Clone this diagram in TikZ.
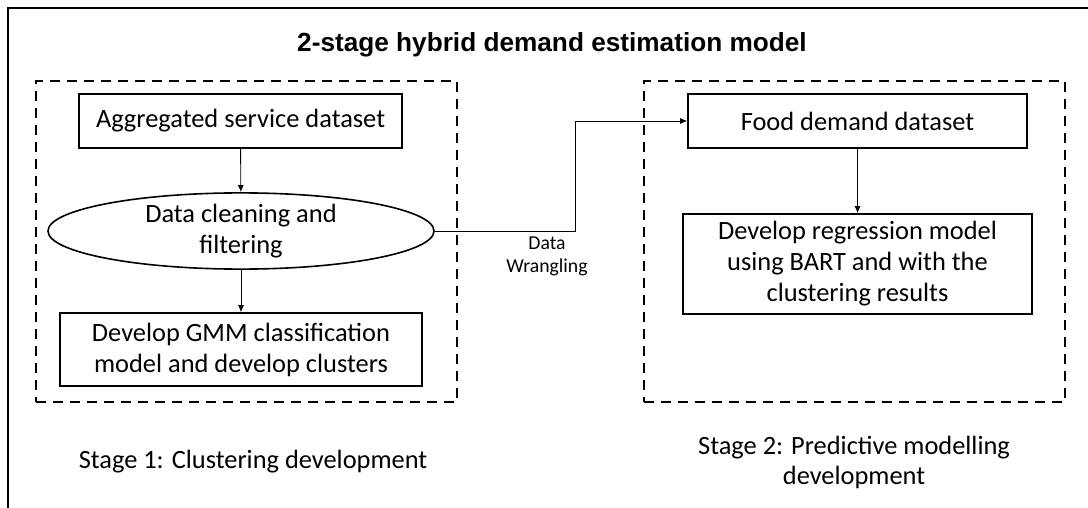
\documentclass[tikz,border=0pt]{standalone}
\usepackage{fontspec}
\setmainfont{Carlito}
\newfontfamily\headfont{Liberation Sans}
\usetikzlibrary{shapes.geometric,arrows.meta}

\begin{document}
\begin{tikzpicture}[x=1pt,y=-1pt,
    stepbox/.style={draw,line width=1.6pt,inner sep=0pt,align=center,
        font=\fontsize{26.4}{31}\selectfont},
    cleanbox/.style={stepbox,ellipse},
    stagebox/.style={draw,line width=2pt,dash pattern=on 10pt off 7pt,
        inner sep=0pt},
    flow/.style={line width=0.9pt,-{Latex[length=7pt,width=6pt]}},
    caption/.style={align=center,font=\fontsize{26.4}{30}\selectfont}]
    \useasboundingbox (0,0) rectangle (1088,508);
    \draw[line width=2.4pt] (8,508) -- (8,8) -- (1088,8);

    \node (title) at (552,45) {\headfont\bfseries\fontsize{26.2}{30}\selectfont 2-stage hybrid demand estimation model};

    % stage frames
    \node[stagebox,minimum width=421pt,minimum height=321pt] (stage1) at (246.5,241.5) {};
    \node[stagebox,minimum width=421pt,minimum height=321pt] (stage2) at (854,241.5) {};

    % stage 1
    \node[stepbox,minimum width=323pt,minimum height=54pt] (agg) at (240.5,121) {Aggregated service dataset};
    \node[cleanbox,minimum width=386pt,minimum height=71pt] (clean) at (241,231) {Data cleaning and\\filtering};
    \node[stepbox,minimum width=362pt,minimum height=73pt] (gmm) at (241,349.5) {Develop GMM classification\\model and develop clusters};

    % stage 2
    \node[stepbox,minimum width=339pt,minimum height=54pt] (food) at (857.5,121) {Food demand dataset};
    \node[stepbox,minimum width=349pt,minimum height=100pt] (regr) at (857.5,264) {Develop regression model\\using BART and with the\\clustering results};

    \draw[flow] (agg) -- (clean);
    \draw[flow] (clean) -- (gmm);
    \draw[flow] (food) -- (regr);

    \coordinate (bend) at (575,231);
    \draw[flow] (clean.east) -- (bend) |- (food.west);
    \node[align=center,font=\fontsize{19.7}{23}\selectfont] (wrangle) at (547,256) {Data\\Wrangling};

    \node[caption] (cap1) at (253,462) {Stage 1: Clustering development};
    \node[caption] (cap2) at (854,462) {Stage 2: Predictive modelling\\development};
\end{tikzpicture}
\end{document}
